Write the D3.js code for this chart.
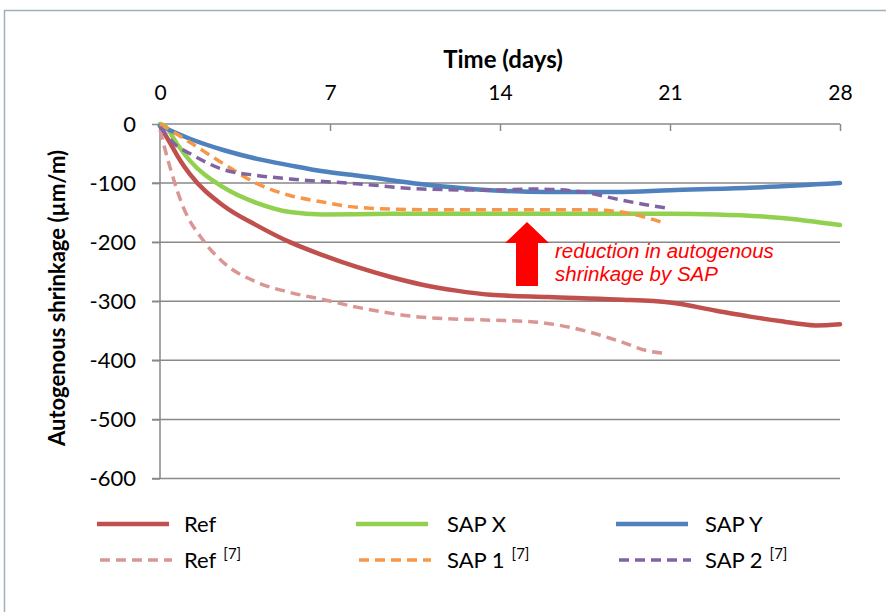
<!DOCTYPE html>
<html><head><meta charset="utf-8">
<script src="https://cdn.jsdelivr.net/npm/d3@7"></script>
<style>
html,body{margin:0;padding:0;background:#fff;}
svg{display:block;}
</style></head>
<body>
<svg id="chart" width="886" height="612"></svg>
<script>
// ---- data ----
const xTicks = [0, 7, 14, 21, 28];
const yTicks = [0, -100, -200, -300, -400, -500, -600];

const refDays  = [0, 0.4, 0.82, 1.23, 2.6, 4, 5.35, 6.7, 8.1, 9.5, 10.8, 12.2, 13.6, 16, 18.8, 21, 22.9, 24.3, 25.6, 26.3, 27, 28];
const refVals  = [-3, -31, -61, -85, -138, -172, -200, -222, -242, -259, -272, -282, -289, -293, -297, -302, -316, -326, -334, -338, -341, -339];

const sapXDays = [0, 0.2, 0.69, 1.23, 2.6, 4, 5.35, 6.7, 9.5, 13.6, 17.4, 21, 22.9, 25.6, 28];
const sapXVals = [0, -3, -33, -62, -107, -134, -149, -153, -152, -152, -152, -152, -153, -159, -171];

const sapYDays = [0, 1.23, 2.6, 4, 5.35, 6.7, 8.1, 10.8, 13.6, 16, 18.8, 21, 24.3, 28];
const sapYVals = [-3, -25, -44, -59, -70, -80, -87, -102, -112, -115, -115, -112, -108, -100];

const ref7Days = [0, 0.41, 0.96, 1.78, 2.6, 4, 5.35, 6.7, 8.1, 10.8, 13.6, 15.4, 17.4, 18.8, 20.2, 20.85];
const ref7Vals = [-10, -73, -141, -197, -234, -268, -285, -297, -310, -327, -332, -335, -349, -366, -385, -388];

const sap1Days = [0, 0.69, 1.23, 2.6, 4, 5.35, 6.7, 8.1, 10.8, 13.6, 17.4, 18.8, 19.9, 20.85];
const sap1Vals = [0, -17, -31, -67, -101, -121, -132, -141, -145, -145, -145, -148, -157, -169];

const sap2Days = [0, 0.69, 1.23, 2.6, 4, 5.35, 8.1, 10.8, 13.6, 15.4, 17.4, 18.8, 20.2, 21];
const sap2Vals = [-5, -37, -50, -77, -87, -93, -101, -110, -112, -110, -115, -127, -138, -143];

const seriesNames = ["Ref", "SAP X", "SAP Y", "Ref", "SAP 1", "SAP 2"];
const seriesSup   = ["", "", "", "[7]", "[7]", "[7]"];

// ---- styles ----
const series = [
  {days: refDays,  vals: refVals,  color: "#C0504D", dash: null, w: 4.5},
  {days: sapXDays, vals: sapXVals, color: "#92D050", dash: null, w: 4.5},
  {days: sapYDays, vals: sapYVals, color: "#4F81BD", dash: null, w: 4.5},
  {days: ref7Days, vals: ref7Vals, color: "#DA9694", dash: "10,6", w: 3.5},
  {days: sap1Days, vals: sap1Vals, color: "#F79646", dash: "10,6", w: 3.5},
  {days: sap2Days, vals: sap2Vals, color: "#8064A2", dash: "10,6", w: 3.5}
];

const svg = d3.select("#chart");
const font = "Lato, 'Open Sans', sans-serif";

// outer border
svg.append("rect").attr("x", 4.5).attr("y", 10.5).attr("width", 900).attr("height", 620)
  .attr("fill", "#fff").attr("stroke", "#9DB0BD").attr("stroke-width", 1.5);

const x = d3.scaleLinear().domain([0, 28]).range([160, 840]);
const y = d3.scaleLinear().domain([-600, 0]).range([478.5, 124]);
const gridColor = "#898989";
const fmt = d => String(d);

// gridlines
svg.append("g").selectAll("line").data(yTicks.filter(v => v !== 0)).join("line")
  .attr("x1", 152).attr("x2", 840).attr("y1", d => y(d)).attr("y2", d => y(d))
  .attr("stroke", gridColor).attr("stroke-width", 1.5);

// top x axis
const xAxis = d3.axisTop(x).tickValues(xTicks).tickFormat(fmt).tickSize(-7).tickPadding(24);
const gx = svg.append("g").attr("transform", `translate(0,${y(0)})`).call(xAxis);
gx.select(".domain").attr("stroke", gridColor).attr("stroke-width", 1.5).attr("d", `M${x(0)},0H${x(28)}`);
gx.selectAll(".tick line").attr("stroke", gridColor).attr("stroke-width", 1.5);
gx.selectAll(".tick text").attr("font-family", font).attr("font-size", 21).attr("fill", "#000");

// left y axis
const yAxis = d3.axisLeft(y).tickValues(yTicks).tickFormat(fmt).tickSize(8).tickPadding(16);
const gy = svg.append("g").attr("transform", `translate(${x(0)},0)`).call(yAxis);
gy.select(".domain").attr("stroke", gridColor).attr("stroke-width", 1.5).attr("d", `M0,${y(-600)}V${y(0)}`);
gy.selectAll(".tick line").attr("stroke", gridColor).attr("stroke-width", 1.5);
gy.selectAll(".tick text").attr("font-family", font).attr("font-size", 22).attr("fill", "#000");

// axis titles
svg.append("text").attr("x", 503).attr("y", 68).attr("text-anchor", "middle")
  .attr("font-family", font).attr("font-weight", "bold").attr("font-size", 24).text("Time (days)");
svg.append("text").attr("transform", "translate(65,298) rotate(-90)").attr("text-anchor", "middle")
  .attr("font-family", font).attr("font-weight", "bold").attr("font-size", 22).text("Autogenous shrinkage (µm/m)");

// lines
const line = d3.line().curve(d3.curveMonotoneX);
const plot = svg.append("g");
series.forEach(s => {
  const pts = s.days.map((d, i) => [x(d), y(s.vals[i])]);
  plot.append("path").attr("d", line(pts)).attr("fill", "none")
    .attr("stroke", s.color).attr("stroke-width", s.w)
    .attr("stroke-dasharray", s.dash).attr("stroke-linecap", s.dash ? "butt" : "round")
    .attr("stroke-linejoin", "round");
});

// arrow annotation
svg.append("path")
  .attr("d", "M527,222 L549,243 L538,243 L538,286 L516,286 L516,243 L505,243 Z")
  .attr("fill", "#FF0000");
svg.append("text").attr("x", 555).attr("y", 258).attr("font-family", "Arial, 'Liberation Sans', sans-serif")
  .attr("font-style", "italic").attr("font-size", 20.5).attr("fill", "#FF0000").text("reduction in autogenous");
svg.append("text").attr("x", 555).attr("y", 281).attr("font-family", "Arial, 'Liberation Sans', sans-serif")
  .attr("font-style", "italic").attr("font-size", 20.5).attr("fill", "#FF0000").text("shrinkage by SAP");

// legend
const legX = [97, 356, 616];
const legTX = [184, 447, 705];
const legY = [524, 560];
const leg = svg.append("g");
series.forEach((s, i) => {
  const col = i % 3, row = Math.floor(i / 3);
  const lx = legX[col] + (row ? 3 : 0);
  const ly = legY[row];
  leg.append("line").attr("x1", lx).attr("x2", lx + 72).attr("y1", ly).attr("y2", ly)
    .attr("stroke", s.color).attr("stroke-width", s.w).attr("stroke-dasharray", s.dash);
  const t = leg.append("text").attr("x", legTX[col]).attr("y", ly + 8)
    .attr("font-family", font).attr("font-size", 22).attr("fill", "#000");
  t.append("tspan").text(seriesNames[i]);
  if (seriesSup[i]) {
    t.append("tspan").attr("dx", 7).attr("dy", -9).attr("font-size", 15).text(seriesSup[i]);
  }
});
</script>
</body></html>
